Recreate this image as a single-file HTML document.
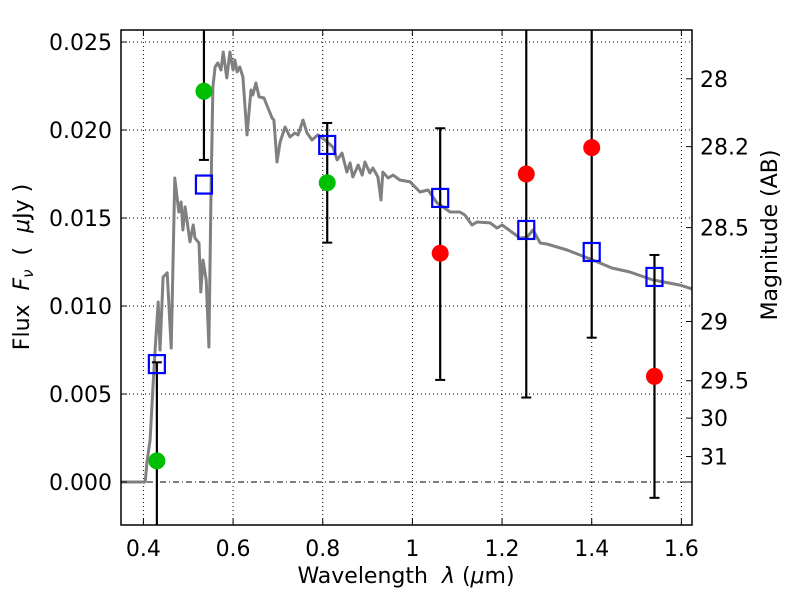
<!DOCTYPE html>
<html><head><meta charset="utf-8"><style>
html,body{margin:0;padding:0;background:#fff;}
svg text{font-family:"DejaVu Sans","Liberation Sans",sans-serif;fill:#000;white-space:pre;}
</style></head><body>
<svg id="chart" width="800" height="600" xmlns="http://www.w3.org/2000/svg" xml:space="preserve">
<rect width="800" height="600" fill="#fff"/>
<g id="grid"></g>
<g id="spec"></g>
<g id="marks"></g>
<g id="axes"></g>
<text x="406" y="583" font-size="22" text-anchor="middle">Wavelength  <tspan font-style="italic">λ</tspan> (<tspan font-style="italic">μ</tspan>m)</text>
<text transform="translate(29,267) rotate(-90)" font-size="22" text-anchor="middle">Flux  <tspan font-style="italic">F</tspan><tspan font-style="italic" font-size="15" dy="4">ν</tspan><tspan dy="-4">  (  </tspan><tspan font-style="italic">μ</tspan>Jy )</text>
<text transform="translate(777,235) rotate(-90)" font-size="22" text-anchor="middle">Magnitude (AB)</text>
</svg>
<script>
const specLam=[0.350,0.404,0.408,0.415,0.421,0.426,0.433,0.437,0.444,0.453,0.462,0.470,0.479,0.484,0.488,0.493,0.504,0.511,0.515,0.524,0.528,0.533,0.540,0.546,0.551,0.555,0.560,0.566,0.573,0.578,0.586,0.593,0.600,0.604,0.609,0.615,0.622,0.631,0.640,0.644,0.651,0.658,0.669,0.678,0.687,0.691,0.698,0.705,0.716,0.727,0.738,0.745,0.756,0.765,0.776,0.789,0.805,0.823,0.832,0.843,0.854,0.861,0.867,0.879,0.888,0.894,0.905,0.912,0.923,0.930,0.934,0.946,0.957,0.972,0.995,1.017,1.035,1.055,1.068,1.084,1.106,1.117,1.133,1.144,1.173,1.189,1.200,1.222,1.240,1.256,1.269,1.285,1.300,1.345,1.403,1.445,1.485,1.537,1.597,1.624];
const specFlux=[0,0,0.00114,0.00239,0.00523,0.00750,0.01023,0.00750,0.01165,0.01188,0.00761,0.01727,0.01534,0.01591,0.01432,0.01563,0.01364,0.01460,0.01386,0.01358,0.01080,0.01261,0.01148,0.00767,0.01676,0.02244,0.02358,0.02381,0.02341,0.02443,0.02296,0.02443,0.02341,0.02398,0.02330,0.02358,0.02301,0.01972,0.02227,0.02199,0.02267,0.02188,0.02182,0.02125,0.02068,0.02057,0.01818,0.01932,0.02017,0.01960,0.01983,0.01972,0.02057,0.01983,0.01943,0.01972,0.01943,0.01903,0.01830,0.01869,0.01761,0.01813,0.01733,0.01801,0.01744,0.01818,0.01756,0.01784,0.01733,0.01602,0.01761,0.01727,0.01744,0.01716,0.01705,0.01648,0.01659,0.01585,0.01563,0.01534,0.01534,0.01517,0.01460,0.01477,0.01472,0.01443,0.01460,0.01420,0.01386,0.01392,0.01432,0.01358,0.01352,0.01318,0.01261,0.01216,0.01193,0.01148,0.01119,0.01097];
const modelLam=[0.430,0.535,0.810,1.062,1.254,1.400,1.540];
const modelFlux=[0.0067,0.0169,0.01915,0.01614,0.01432,0.01307,0.01165];
const greenLam=[0.430,0.535,0.810];
const greenFlux=[0.0012,0.0222,0.0170];
const greenLo=[-0.005,0.0183,0.0136];
const greenHi=[0.0068,0.03,0.0204];
const redLam=[1.062,1.254,1.400,1.540];
const redFlux=[0.0130,0.0175,0.0190,0.0060];
const redLo=[0.0058,0.0048,0.0082,-0.0009];
const redHi=[0.0201,0.03,0.03,0.0129];
const xTicks=[0.4,0.6,0.8,1.0,1.2,1.4,1.6];
const xTickLabels=["0.4","0.6","0.8","1","1.2","1.4","1.6"];
const yTicks=[0,0.005,0.010,0.015,0.020,0.025];
const yTickLabels=["0.000","0.005","0.010","0.015","0.020","0.025"];
const magTicks=[28,28.2,28.5,29,29.5,30,31];
const magTickLabels=["28","28.2","28.5","29","29.5","30","31"];

const L=121,R=692,T=30,B=525;
const xMin=0.35,xMax=0.35+(R-L)/448.3;
const yMin=-(B-482)/17600,yMax=(482-T)/17600;
const X=v=>L+(v-xMin)/(xMax-xMin)*(R-L);
const Y=v=>B-(v-yMin)/(yMax-yMin)*(B-T);
const NS="http://www.w3.org/2000/svg";
function mk(tag,attrs,parent){const e=document.createElementNS(NS,tag);for(const k in attrs)e.setAttribute(k,attrs[k]);parent.appendChild(e);return e;}
const grid=document.getElementById('grid'),spec=document.getElementById('spec'),marks=document.getElementById('marks'),axes=document.getElementById('axes');
const clampY=v=>Math.max(T,Math.min(B,Y(v)));

xTicks.forEach((t,i)=>{
  const g=mk('line',{x1:X(t),x2:X(t),y1:T,y2:B,stroke:'#000','stroke-width':1,'stroke-dasharray':'1,3'},grid);
  
  
  mk('line',{x1:X(t),x2:X(t),y1:B,y2:B-6,stroke:'#000'},axes);
  mk('line',{x1:X(t),x2:X(t),y1:T,y2:T+6,stroke:'#000'},axes);
  const tx=mk('text',{x:X(t),y:B+31,'font-size':22,'text-anchor':'middle'},axes);
  tx.textContent=xTickLabels[i];
  
  
});
yTicks.forEach((t,i)=>{
  const g=mk('line',{x1:L,x2:R,y1:Y(t),y2:Y(t),stroke:'#000','stroke-width':1,'stroke-dasharray':t===0?'6,3,1,3':'1,3'},grid);
  
  
  mk('line',{x1:L,x2:L+6,y1:Y(t),y2:Y(t),stroke:'#000'},axes);
  const tx=mk('text',{x:L-9,y:Y(t)+8,'font-size':22,'text-anchor':'end'},axes);
  tx.textContent=yTickLabels[i];
  
  
});
magTicks.forEach((m,i)=>{
  const f=Math.pow(10,(23.9-m)/2.5);
  mk('line',{x1:R,x2:R-6,y1:Y(f),y2:Y(f),stroke:'#000'},axes);
  const tx=mk('text',{x:R+8,y:Y(f)+8,'font-size':22},axes);
  tx.textContent=magTickLabels[i];
  
  
});
mk('line',{x1:R,x2:R-6,y1:Y(0),y2:Y(0),stroke:'#000'},axes);

const sp=mk('polyline',{points:specLam.map((l,i)=>X(l).toFixed(1)+','+Y(specFlux[i]).toFixed(1)).join(' '),fill:'none',stroke:'#808080','stroke-width':3,'stroke-linejoin':'round'},spec);



function errbar(l,lo,hi){
  const x=X(l),y1=clampY(hi),y2=clampY(lo);
  const e=mk('line',{x1:x,x2:x,y1:y1,y2:y2,stroke:'#000','stroke-width':2.2},marks);
  
  
  [hi,lo].forEach(v=>{const y=Y(v);if(y>T&&y<B)mk('line',{x1:x-5,x2:x+5,y1:y,y2:y,stroke:'#000','stroke-width':2},marks);});
}
greenLam.forEach((l,i)=>errbar(l,greenLo[i],greenHi[i]));
redLam.forEach((l,i)=>errbar(l,redLo[i],redHi[i]));
modelLam.forEach((l,i)=>{
  const s=mk('rect',{x:X(l)-8,y:Y(modelFlux[i])-9,width:16,height:18,fill:'none',stroke:'#0000ff','stroke-width':2.2},marks);
  
  
});
greenLam.forEach((l,i)=>{
  const c=mk('circle',{cx:X(l),cy:Y(greenFlux[i]),r:8.5,fill:'#00bf00'},marks);
  
  
});
redLam.forEach((l,i)=>{
  const c=mk('circle',{cx:X(l),cy:Y(redFlux[i]),r:8.5,fill:'#ff0000'},marks);
  
  
});
const fr=mk('rect',{x:L,y:T,width:R-L,height:B-T,fill:'none',stroke:'#000','stroke-width':1.5},axes);


</script>
</body></html>
